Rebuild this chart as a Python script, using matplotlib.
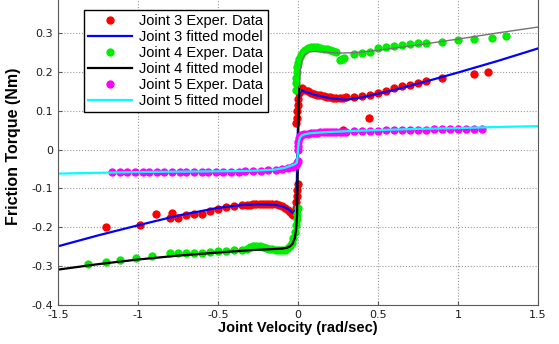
import numpy as np
import matplotlib
matplotlib.use("Agg")
import matplotlib.pyplot as plt

# Joint 3 experimental data
j3_x = [-1.20, -0.99, -0.89, -0.79, -0.80, -0.75, -0.70, -0.65, -0.60, -0.55, -0.50, -0.45, -0.40, -0.35,
        -0.32, -0.30, -0.28, -0.26, -0.24, -0.22, -0.20, -0.18, -0.16, -0.14, -0.12, -0.10, -0.08, -0.06,
        -0.05, -0.04, -0.03, -0.02, -0.015, -0.01, -0.007, -0.005, -0.003,
        -0.01, -0.008, -0.005, -0.003, 0.0, 0.005, 0.015, 0.025, 0.04, 0.06, 0.08, 0.10, 0.12, 0.14, 0.16,
        0.18, 0.20, 0.22, 0.24, 0.26, 0.28, 0.30, 0.35, 0.40, 0.45, 0.50, 0.55, 0.60, 0.65, 0.70, 0.75,
        0.80, 0.90, 1.10, 1.185, 0.446, 0.279]
j3_y = [-0.200, -0.193, -0.166, -0.163, -0.177, -0.176, -0.169, -0.167, -0.165, -0.159, -0.154, -0.148, -0.145, -0.143,
        -0.143, -0.142, -0.141, -0.141, -0.140, -0.140, -0.140, -0.140, -0.140, -0.141, -0.143, -0.146, -0.150, -0.155,
        -0.160, -0.165, -0.168, -0.160, -0.150, -0.135, -0.120, -0.105, -0.090,
        0.068, 0.080, 0.100, 0.115, 0.130, 0.145, 0.155, 0.157, 0.154, 0.150, 0.146, 0.143, 0.141, 0.139, 0.137,
        0.135, 0.134, 0.133, 0.133, 0.133, 0.133, 0.134, 0.135, 0.137, 0.140, 0.146, 0.151, 0.157, 0.163, 0.167, 0.171,
        0.176, 0.183, 0.195, 0.200, 0.082, 0.050]

# Joint 3 fitted model
fit3_x = [-1.5, -1.25, -1.0, -0.75, -0.5, -0.35, -0.25, -0.15, -0.10, -0.07, -0.05, -0.035, -0.025, -0.015,
          -0.009, -0.004, 0.003, 0.01, 0.02, 0.05, 0.10, 0.20, 0.30, 0.40, 0.60, 0.80, 1.00, 1.25, 1.5]
fit3_y = [-0.249, -0.221, -0.195, -0.170, -0.150, -0.143, -0.141, -0.142, -0.146, -0.151, -0.157, -0.163, -0.162, -0.152,
          -0.130, 0.0, 0.120, 0.145, 0.152, 0.148, 0.141, 0.132, 0.128, 0.134, 0.153, 0.175, 0.198, 0.228, 0.260]

# Joint 4 experimental data
j4_x = [-1.31, -1.20, -1.11, -1.01, -0.91, -0.80, -0.75, -0.70, -0.65, -0.60, -0.55, -0.50, -0.45, -0.40, -0.35,
        -0.32, -0.30, -0.28, -0.26, -0.24, -0.22, -0.20, -0.18, -0.16, -0.14, -0.12, -0.10, -0.08, -0.06,
        -0.05, -0.04, -0.03, -0.02, -0.012, -0.008, -0.005, -0.003,
        -0.012, -0.012, -0.01, -0.008, -0.005, 0.0, 0.008, 0.018, 0.03, 0.045, 0.06, 0.08, 0.10, 0.12, 0.14,
        0.16, 0.18, 0.20, 0.22, 0.24, 0.26, 0.275, 0.29, 0.35, 0.40, 0.45, 0.50, 0.55, 0.60, 0.65, 0.70, 0.75,
        0.80, 0.90, 1.00, 1.10, 1.21, 1.30]
j4_y = [-0.295, -0.289, -0.285, -0.280, -0.274, -0.266, -0.265, -0.266, -0.266, -0.265, -0.263, -0.262, -0.260, -0.258, -0.258,
        -0.255, -0.252, -0.248, -0.247, -0.249, -0.252, -0.254, -0.256, -0.257, -0.258, -0.259, -0.259, -0.258, -0.253,
        -0.248, -0.240, -0.228, -0.212, -0.195, -0.180, -0.165, -0.150,
        0.152, 0.170, 0.185, 0.200, 0.212, 0.222, 0.232, 0.242, 0.250, 0.256, 0.260, 0.263, 0.264, 0.263, 0.261,
        0.259, 0.258, 0.256, 0.254, 0.251, 0.231, 0.233, 0.236, 0.245, 0.247, 0.251, 0.260, 0.264, 0.266, 0.270, 0.271, 0.273,
        0.273, 0.277, 0.281, 0.285, 0.288, 0.293]

# Joint 4 fitted model
fit4_x = [-1.5, -1.25, -1.0, -0.75, -0.5, -0.3, -0.15, -0.1, -0.07, -0.05, -0.035, -0.02, -0.012, -0.006,
          -0.003, 0.0, 0.004, 0.008, 0.015, 0.025, 0.04, 0.07, 0.10, 0.15, 0.25, 0.35, 0.5, 0.75, 1.0, 1.25, 1.5]
fit4_y = [-0.309, -0.295, -0.283, -0.273, -0.265, -0.259, -0.256, -0.255, -0.253, -0.249, -0.243, -0.228, -0.207, -0.170,
          -0.100, 0.0, 0.100, 0.160, 0.205, 0.228, 0.243, 0.251, 0.252, 0.251, 0.248, 0.249, 0.255, 0.269, 0.284, 0.300, 0.315]

# Joint 5 experimental data
j5_x = [-1.16, -1.11, -1.07, -1.02, -0.97, -0.93, -0.88, -0.84, -0.79, -0.74, -0.70, -0.65, -0.60,
        -0.56, -0.51, -0.47, -0.42, -0.37, -0.33, -0.28, -0.23, -0.19, -0.14, -0.10, -0.06,
        -0.04, -0.025, -0.012, -0.005, -0.002,
        0.0, 0.0, 0.002, 0.005, 0.01, 0.02, 0.04, 0.06, 0.08, 0.10, 0.12, 0.14, 0.16, 0.18, 0.20, 0.22,
        0.24, 0.26, 0.28, 0.30, 0.35, 0.40, 0.45, 0.50, 0.55, 0.60, 0.65, 0.70, 0.75, 0.80, 0.85, 0.90,
        0.95, 1.00, 1.05, 1.10, 1.15]
j5_y = [-0.059, -0.058, -0.058, -0.058, -0.058, -0.058, -0.058, -0.058, -0.058, -0.058, -0.058, -0.058, -0.058,
        -0.058, -0.058, -0.057, -0.057, -0.057, -0.056, -0.056, -0.055, -0.054, -0.053, -0.051, -0.048,
        -0.046, -0.043, -0.040, -0.036, -0.030,
        0.0, 0.010, 0.020, 0.030, 0.035, 0.038, 0.040, 0.041, 0.042, 0.043, 0.043, 0.044, 0.044, 0.044, 0.045, 0.045,
        0.045, 0.045, 0.046, 0.046, 0.047, 0.047, 0.048, 0.048, 0.049, 0.049, 0.050, 0.050, 0.051, 0.051, 0.052, 0.052,
        0.053, 0.053, 0.053, 0.054, 0.054]

# Joint 5 fitted model
fit5_x = [-1.5, -1.25, -1.0, -0.75, -0.5, -0.3, -0.15, -0.08, -0.04, -0.02, -0.008, -0.003, 0.0, 0.005,
          0.012, 0.02, 0.04, 0.08, 0.15, 0.3, 0.5, 0.75, 1.0, 1.25, 1.5]
fit5_y = [-0.062, -0.060, -0.058, -0.057, -0.056, -0.055, -0.052, -0.047, -0.041, -0.038, -0.034, -0.020, 0.0, 0.020,
          0.030, 0.035, 0.039, 0.042, 0.044, 0.047, 0.050, 0.053, 0.055, 0.058, 0.060]

fig = plt.figure(figsize=(5.59, 3.44), dpi=100)
ax = fig.add_axes([58 / 559, 39 / 344, 480 / 559, 311 / 344])

ms = 6
ax.plot(j3_x, j3_y, 'o', color='#ff0000', ms=ms, mew=0, label='Joint 3 Exper. Data')
ax.plot(fit3_x, fit3_y, '-', color='#0000ff', lw=1.6, label='Joint 3 fitted model')
ax.plot(j4_x, j4_y, 'o', color='#00ee00', ms=ms, mew=0, label='Joint 4 Exper. Data')

# black model: heavy on the negative side, thin grey once it is past the jump
f4x = np.array(fit4_x)
f4y = np.array(fit4_y)
neg = f4x <= 0.008
ax.plot(f4x[neg], f4y[neg], '-', color='black', lw=1.6, label='Joint 4 fitted model')
ax.plot(f4x[f4x >= 0.008], f4y[f4x >= 0.008], '-', color='0.45', lw=1.0)

ax.plot(j5_x, j5_y, 'o', color='#ff00ff', ms=ms, mew=0, label='Joint 5 Exper. Data')
ax.plot(fit5_x, fit5_y, '-', color='#00ffff', lw=1.6, label='Joint 5 fitted model')

ax.set_xlim(-1.5, 1.5)
ax.set_ylim(-0.4, 0.4)
ax.set_xticks([-1.5, -1, -0.5, 0, 0.5, 1, 1.5])
ax.set_xticklabels(['-1.5', '-1', '-0.5', '0', '0.5', '1', '1.5'])
ax.set_yticks([-0.4, -0.3, -0.2, -0.1, 0, 0.1, 0.2, 0.3])
ax.set_yticklabels(['-0.4', '-0.3', '-0.2', '-0.1', '0', '0.1', '0.2', '0.3'])
ax.tick_params(direction='in', length=3, labelsize=8, colors='0.35', labelcolor='0.1')
for lab in ax.get_xticklabels() + ax.get_yticklabels():
    lab.set_family('DejaVu Sans')
ax.grid(True, linestyle=':', color='0.6', lw=0.8)
for s in ax.spines.values():
    s.set_color('0.35')

ax.set_xlabel('Joint Velocity (rad/sec)', fontsize=10.5, fontweight='bold',
              family='Liberation Sans', labelpad=1)
ax.set_ylabel('Friction Torque (Nm)', fontsize=11.5, fontweight='bold', family='Liberation Sans')
ax.yaxis.set_label_coords(-0.077, 0.51)

leg = ax.legend(loc='upper left', bbox_to_anchor=(0.054, 0.949), borderaxespad=0,
                numpoints=1, handlelength=3.0, handletextpad=0.5, labelspacing=0.13,
                borderpad=0.3, fancybox=False, framealpha=1,
                prop={'family': 'Liberation Sans', 'size': 10.5})
leg.get_frame().set_edgecolor('black')
leg.get_frame().set_linewidth(1.0)

fig.savefig('out.png', dpi=100)
